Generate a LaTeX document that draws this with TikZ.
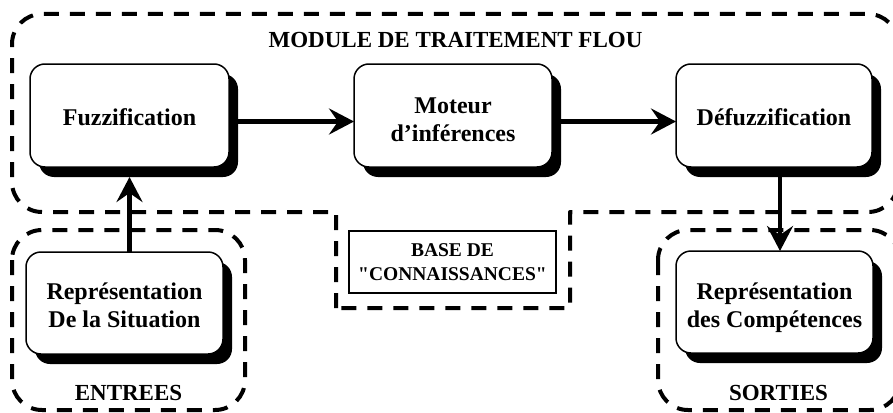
\documentclass[tikz,border=0pt]{standalone}
\usepackage{fontspec}
\setmainfont{Liberation Serif}[Ligatures=TeXOff]
\usetikzlibrary{arrows.meta,shadows}
\begin{document}
\begin{tikzpicture}[x=1pt,y=-1pt,
  grp/.style={line width=4pt, dash pattern=on 15pt off 11pt, line join=round},
  box/.style={draw, line width=1.5pt, fill=white, rounded corners=15pt,
    minimum width=199pt, minimum height=103pt, inner sep=0pt, outer sep=0pt,
    align=center, font=\fontsize{24}{28}\selectfont\bfseries,
    drop shadow={shadow xshift=9pt, shadow yshift=-10pt, opacity=1, fill=black, draw=none}},
  arr/.style={line width=4.5pt, -{Stealth[length=25pt,width=26pt,inset=9pt]}},
  lbl/.style={font=\fontsize{23}{27}\selectfont\bfseries, inner sep=0pt, anchor=base}
]
\useasboundingbox (0,0) rectangle (893,412);
\clip (0,0) rectangle (893,412);
% group frames
\draw[grp] (336,308) -- (336,212) -- (42,212)
  arc[start angle=90,end angle=180,radius=30] -- (12,44)
  arc[start angle=180,end angle=270,radius=30] -- (868,14)
  arc[start angle=270,end angle=360,radius=30] -- (898,182)
  arc[start angle=0,end angle=90,radius=30] -- (570,212) -- (570,308) -- cycle;
\draw[grp, rounded corners=30pt] (12,230) rectangle (245,410);
\draw[grp, rounded corners=30pt] (658,230) rectangle (900,410);
% labels
\node[lbl] (title) at (455.5,48) {MODULE DE TRAITEMENT FLOU};
\node[lbl] (entrees) at (128.5,400) {ENTREES};
\node[lbl] (sorties) at (778.5,400) {SORTIES};
% knowledge base
\node[draw, line width=1.2pt, minimum width=207pt, minimum height=62pt, inner sep=0pt,
  align=center, font=\fontsize{19.5}{24}\selectfont\bfseries] (base) at (452.5,262)
  {BASE DE\\"CONNAISSANCES"};
% boxes
\node[box] (fuz) at (129.5,115.5) {\rule{0pt}{21pt}Fuzzification};
\node[box, minimum width=198pt] (mot) at (453,115.5) {\rule{0pt}{25pt}Moteur\\d’inférences};
\node[box, minimum width=196pt] (def) at (774,115.5) {\rule{0pt}{21pt}Défuzzification};
\node[box, minimum width=197pt, minimum height=102pt] (reps) at (124.5,303) {\rule{0pt}{22pt}Représentation\\De la Situation};
\node[box, minimum width=197pt, minimum height=102pt] (repc) at (774.5,302) {\rule{0pt}{29pt}Représentation\\des Compétences};
% connectors
\coordinate (dx) at ([xshift=6pt,yshift=-10pt]def.south);
\draw[arr] ([yshift=-6pt]fuz.east) -- ([yshift=-6pt]mot.west);
\draw[arr] ([yshift=-6pt]mot.east) -- ([yshift=-6pt]def.west);
\draw[arr] (reps.north -| fuz.south) -- ([yshift=-10pt]fuz.south);
\draw[arr] (dx) -- (repc.north -| dx);
\end{tikzpicture}
\end{document}
